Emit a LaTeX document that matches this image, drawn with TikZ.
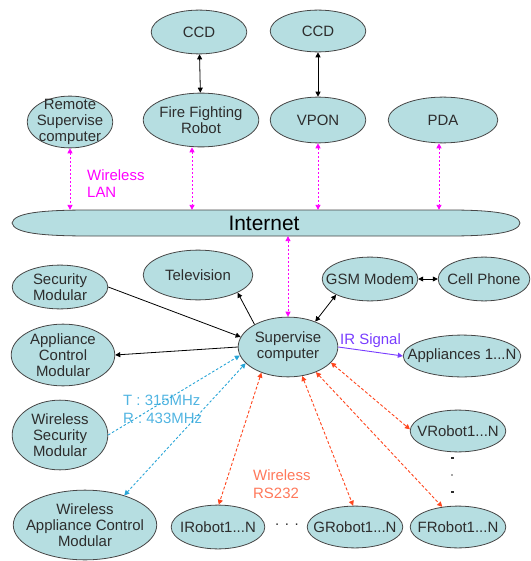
\documentclass[tikz,border=0pt]{standalone}
\usepackage{fontspec}
\setmainfont{Liberation Sans}
\usetikzlibrary{shapes.geometric,arrows.meta,calc}
\definecolor{elfill}{RGB}{182,222,225}
\definecolor{eldraw}{RGB}{70,70,70}
\definecolor{eltext}{RGB}{45,45,45}
\definecolor{mag}{RGB}{255,0,255}
\definecolor{cyanl}{RGB}{40,165,215}
\definecolor{cyant}{RGB}{80,180,225}
\definecolor{orl}{RGB}{255,70,30}
\definecolor{ort}{RGB}{255,120,90}
\definecolor{purp}{RGB}{120,60,255}
\tikzset{
  >={Triangle[length=5bp,width=5bp]},
  el/.style={ellipse, draw=eldraw, fill=elfill, line width=0.8bp, inner sep=0pt},
  eltx/.style={inner sep=0pt, align=center, text=eltext, font=\fontsize{15}{16}\selectfont},
  tx/.style={label={[eltx]center:{#1}}},
  blk/.style={draw=black, line width=0.8bp},
  magl/.style={draw=mag, line width=0.9bp, dash pattern=on 2bp off 2bp, <->},
  cyl/.style={draw=cyanl, line width=0.9bp, dash pattern=on 2.5bp off 2bp},
  orln/.style={draw=orl, line width=0.9bp, dash pattern=on 3bp off 2bp, <->},
  lbl/.style={inner sep=0pt, align=left, font=\fontsize{15}{18}\selectfont},
}
\begin{document}
\begin{tikzpicture}[x=1bp,y=-1bp]
\useasboundingbox (0,0) rectangle (531,561);
% top row
\node[el, minimum width=96, minimum height=44, tx={CCD}] (ccd1) at (199,32) {};
\node[el, minimum width=96, minimum height=42, tx={CCD}] (ccd2) at (318,31) {};
\node[el, minimum width=86, minimum height=52, tx={Remote\\Supervise\\computer}] (rsc) at (70,122) {};
\node[el, minimum width=116, minimum height=54, tx={Fire Fighting\\Robot}] (ffr) at (201,120) {};
\node[el, minimum width=96, minimum height=46, tx={VPON}] (vpon) at (318,120) {};
\node[el, minimum width=110, minimum height=46, tx={PDA}] (pda) at (443,120) {};
% internet
\draw[draw=eldraw, fill=elfill, line width=0.8bp]
  (12,223) .. controls (14,213) and (40,210) .. (90,210) -- (450,210)
  .. controls (495,210) and (519,214) .. (520,223)
  .. controls (519,232) and (495,236) .. (450,236) -- (90,236)
  .. controls (40,236) and (14,233) .. (12,223) -- cycle;
\node[rectangle, inner sep=0pt, minimum width=508, minimum height=26, text=black,
  font=\fontsize{21}{24}\selectfont] (internet) at (264,223) {Internet};
% middle
\node[el, minimum width=110, minimum height=50, tx={Television}] (tv) at (198,275) {};
\node[el, minimum width=96, minimum height=44, tx={Security\\Modular}] (sec) at (60,287) {};
\node[el, minimum width=96, minimum height=44, tx={GSM Modem}] (gsm) at (370,279) {};
\node[el, minimum width=92, minimum height=44, tx={Cell Phone}] (cell) at (484,279) {};
\node[el, minimum width=104, minimum height=62, tx={Appliance\\Control\\Modular}] (acm) at (63,355) {};
\node[el, minimum width=100, minimum height=60, tx={Supervise\\computer}] (sup) at (288,347) {};
\node[el, minimum width=118, minimum height=42, tx={Appliances 1...N}] (app) at (462,356) {};
\node[el, minimum width=96, minimum height=70, tx={Wireless\\Security\\Modular}] (wsm) at (60,435) {};
\node[el, minimum width=96, minimum height=42, tx={VRobot1...N}] (vrob) at (458,431) {};
% bottom
\node[el, minimum width=144, minimum height=70, tx={Wireless\\Appliance Control\\Modular}] (wacm) at (85,525) {};
\node[el, minimum width=94, minimum height=44, tx={IRobot1...N}] (irob) at (218,527) {};
\node[el, minimum width=96, minimum height=42, tx={GRobot1...N}] (grob) at (355,527) {};
\node[el, minimum width=96, minimum height=42, tx={FRobot1...N}] (frob) at (458,527) {};
\node[inner sep=0pt, text=eltext, font=\fontsize{15}{16}\selectfont] (hdots) at (287,525) {. . .};
\fill[eltext] (450.5,457) rectangle (453.5,458.5);
\fill[gray!70] (451,474) rectangle (453,476);
\fill[eltext] (450.5,491) rectangle (453.5,492.5);
% labels
\node[lbl, text=mag, anchor=base west] (lanlbl) at (87,198) {Wireless\\LAN};
\node[lbl, text=purp, anchor=base west] (irlbl) at (340,344) {IR Signal};
\node[lbl, text=cyant, anchor=base west] (rflbl) at (123,423) {T : 315MHz\\R : 433MHz};
\node[lbl, text=ort, anchor=base west] (rslbl) at (253,498) {Wireless\\RS232};
% black connectors
\draw[blk, <->] (ccd1) -- (ffr);
\draw[blk, <->] (ccd2) -- (vpon);
\draw[blk, ->] (sup.146) -- (tv.-24);
\draw[blk, ->] (sec.east) -- (sup.168);
\draw[blk, ->] (sup.west) -- (acm.east);
\draw[blk, <->] (sup.43) -- (gsm.205);
\draw[blk, <->] (gsm.east) -- (cell.west);
% magenta
\draw[magl] (rsc.south) -- (rsc.south |- internet.north);
\draw[magl] ([xshift=-9bp]ffr.south) -- ([xshift=-9bp]ffr.south |- internet.north);
\draw[magl] (vpon.south) -- (vpon.south |- internet.north);
\draw[magl] ([xshift=-4bp]pda.south) -- ([xshift=-4bp]pda.south |- internet.north);
\draw[magl] (sup.north |- internet.south) -- (sup.north);
% purple
\draw[draw=purp, line width=0.9bp, ->] (sup.east) -- (app.west);
% cyan
\draw[cyl, ->] (wsm.east) -- (sup.190);
\draw[cyl, <->] (wacm.37) -- (sup.201);
% orange
\draw[orln] (sup.-20) -- (vrob.178);
\draw[orln] (sup.-42) -- (frob.128);
\draw[orln] (sup.-64) -- (grob.95);
\draw[orln] (sup.224) -- (irob.88);
\end{tikzpicture}
\end{document}
